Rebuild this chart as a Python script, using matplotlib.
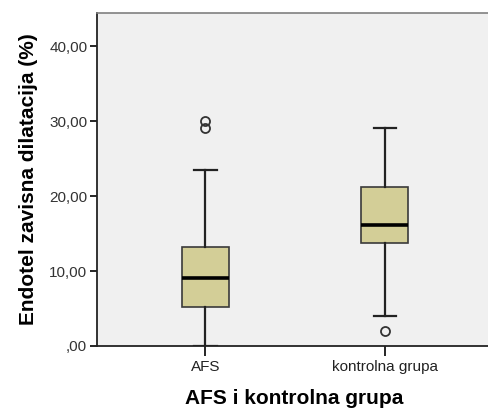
import matplotlib.pyplot as plt
from matplotlib.ticker import FuncFormatter

plt.rcParams['font.family'] = ['Liberation Sans', 'DejaVu Sans']

groups = ["AFS", "kontrolna grupa"]
whisker_low = [0.0, 4.05]
q1 = [5.25, 13.7]
median = [9.1, 16.1]
q3 = [13.2, 21.2]
whisker_high = [23.5, 29.1]
outliers = [[30.0, 29.1], [2.0]]

y_ticks = [0, 10, 20, 30, 40]

stats = []
for i, name in enumerate(groups):
    stats.append({
        "label": name,
        "whislo": whisker_low[i],
        "q1": q1[i],
        "med": median[i],
        "q3": q3[i],
        "whishi": whisker_high[i],
        "fliers": outliers[i],
    })

fig = plt.figure(figsize=(4.88, 4.12), dpi=100)
ax = fig.add_axes([0.1988, 0.1602, 0.81, 0.8082])
ax.set_facecolor("#f0f0f0")

ax.bxp(
    stats,
    positions=[1, 2],
    widths=0.26,
    patch_artist=True,
    boxprops=dict(facecolor="#d3ce97", edgecolor="#3a3a3a", linewidth=1.2),
    medianprops=dict(color="black", linewidth=2.6),
    whiskerprops=dict(color="#222222", linewidth=1.6),
    capprops=dict(color="#222222", linewidth=1.6),
    capwidths=0.125,
    flierprops=dict(marker="o", markerfacecolor="none", markeredgecolor="#333333",
                    markersize=6.5, markeredgewidth=1.3),
)

ax.set_xlim(0.395, 2.6)
ax.set_ylim(0, 44.4)
ax.set_yticks(y_ticks)
ax.yaxis.set_major_formatter(
    FuncFormatter(lambda v, p: ",00" if v == 0 else f"{v:.2f}".replace(".", ","))
)
ax.set_xticks([1, 2])
ax.set_xticklabels(groups)

ax.tick_params(axis="y", direction="out", length=5, width=1.2, labelsize=11,
               labelcolor="#333333", pad=2)
ax.tick_params(axis="x", direction="out", length=7, width=1.2, labelsize=11,
               labelcolor="#222222", pad=3)

for side in ["left", "bottom"]:
    ax.spines[side].set_color("#222222")
    ax.spines[side].set_linewidth(1.3)
ax.spines["top"].set_color("#808080")
ax.spines["top"].set_linewidth(1.2)
ax.spines["right"].set_visible(False)

ax.set_ylabel("Endotel zavisna dilatacija (%)", fontsize=15, fontweight="bold",
              labelpad=8)
ax.set_xlabel("AFS i kontrolna grupa", fontsize=15, fontweight="bold", labelpad=11)

fig.savefig("out.png", dpi=100)
